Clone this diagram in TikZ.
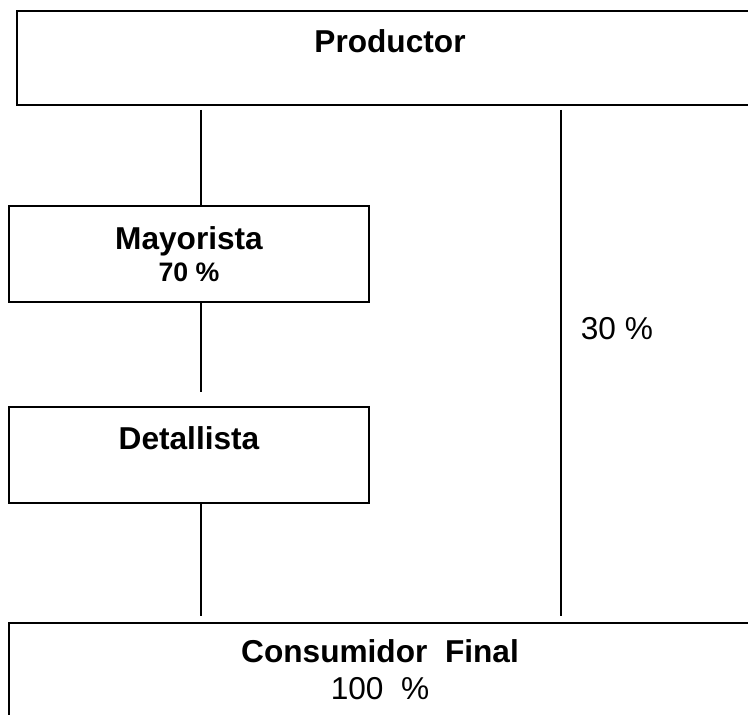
\documentclass[tikz,border=0pt]{standalone}
\usepackage{fontspec}
\setmainfont{Liberation Sans}

\begin{document}
\begin{tikzpicture}[line width = 1.2pt,
                    level/.style   = {rectangle, draw, fill = white, inner sep = 0pt, align = center,
                                      font = \fontsize{22.5}{24}\selectfont\bfseries},
                    share/.style   = {inner sep = 0pt, font = \fontsize{22.5}{24}\selectfont}
                    ]
    \clip (0, 0) rectangle (18.7, 17.875);

    \node[level, minimum width = 18.65cm, minimum height = 2.35cm] (prod) at (9.75, 16.425) {Productor\\\mbox{}};
    \node[level, minimum width = 9cm, minimum height = 2.4cm] (may) at (4.725, 11.525) {Mayorista\\[-1pt]{\fontsize{19}{24}\selectfont 70 \%}};
    \node[level, minimum width = 9cm, minimum height = 2.4cm] (det) at (4.725, 6.5) {Detallista\\\mbox{}};
    \node[level, minimum width = 18.55cm, minimum height = 2.35cm] (cons) at (9.5, 1.125) {Consumidor~~Final\\[2.5pt]{\mdseries 100~~\%}};

    \coordinate (direct) at (14.025, 9);
    \node[share, anchor = base west] (pdirect) at (14.5, 9.375) {30 \%};

    \draw[shorten <= 1mm] ([xshift = 3mm]may.north |- prod.south) -- ([xshift = 3mm]may.north);
    \draw[shorten >= 3.5mm] ([xshift = 3mm]may.south) -- ([xshift = 3mm]det.north);
    \draw[shorten >= 1.5mm] ([xshift = 3mm]det.south) -- ([xshift = 3mm]det.south |- cons.north);
    \draw[shorten <= 1mm, shorten >= 1.5mm] (direct |- prod.south) -- (direct |- cons.north);
\end{tikzpicture}
\end{document}
